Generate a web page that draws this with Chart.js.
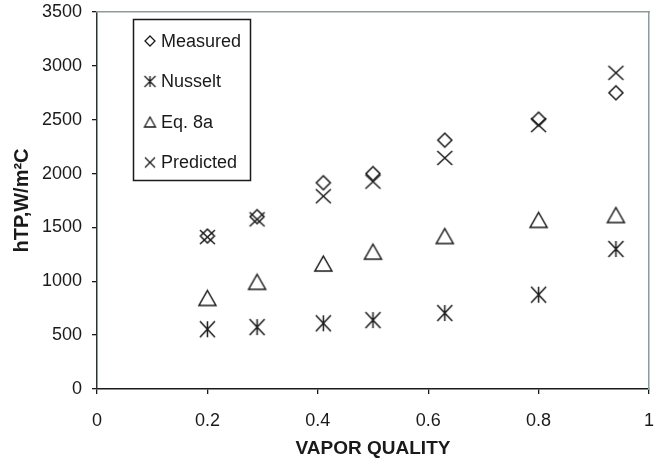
<!DOCTYPE html>
<html>
<head>
<meta charset="utf-8">
<script src="https://cdn.jsdelivr.net/npm/chart.js@4"></script>
<style>
  html, body { margin: 0; padding: 0; background: #fff; }
  #wrap { width: 654px; height: 463px; }
</style>
</head>
<body>
<div id="wrap"><canvas id="chart" width="654" height="463"></canvas></div>
<script>
// values
const vaporQuality = [0.2, 0.29, 0.41, 0.5, 0.63, 0.8, 0.94];
const measured  = [1420, 1600, 1915, 2000, 2310, 2505, 2750];
const nusselt   = [555, 575, 610, 640, 705, 875, 1300];
const eq8a      = [845, 995, 1165, 1275, 1420, 1570, 1615];
const predicted = [1410, 1575, 1790, 1925, 2145, 2450, 2935];
const seriesNames = ['Measured', 'Nusselt', 'Eq. 8a', 'Predicted'];

const INK = '#1a1a1a';
const FONT = '"Liberation Sans", Arial, Helvetica, sans-serif';

// marker glyphs as small canvases (used as pointStyle and in the legend box)
function makeMarker(kind, w, h, lw) {
  const c = document.createElement('canvas');
  c.width = w + 4; c.height = h + 4;
  const g = c.getContext('2d');
  g.strokeStyle = INK; g.lineWidth = lw; g.lineJoin = 'miter';
  g.translate(2, 2);
  g.beginPath();
  if (kind === 'diamond') {
    g.moveTo(w / 2, 0); g.lineTo(w, h / 2); g.lineTo(w / 2, h); g.lineTo(0, h / 2); g.closePath();
  } else if (kind === 'triangle') {
    g.moveTo(w / 2, 0); g.lineTo(w, h); g.lineTo(0, h); g.closePath();
  } else {
    g.moveTo(0, 0); g.lineTo(w, h); g.moveTo(w, 0); g.lineTo(0, h);
    if (kind === 'star') { g.moveTo(w / 2, 0); g.lineTo(w / 2, h); }
  }
  g.stroke();
  return c;
}

const markers = [
  makeMarker('diamond', 14, 14, 1.5),
  makeMarker('star', 15, 16, 1.5),
  makeMarker('triangle', 17, 15, 1.5),
  makeMarker('cross', 15, 14, 1.5)
];
const legendMarkers = [
  makeMarker('diamond', 10, 10, 1.3),
  makeMarker('star', 11, 11, 1.3),
  makeMarker('triangle', 11, 10, 1.3),
  makeMarker('cross', 10, 10, 1.3)
];

const toPoints = ys => vaporQuality.map((x, i) => ({ x, y: ys[i] }));
const datasets = [measured, nusselt, eq8a, predicted].map((ys, i) => ({
  label: seriesNames[i],
  data: toPoints(ys),
  pointStyle: markers[i],
  showLine: false
}));

// legend box drawn inside the plot area, top-left
const boxLegend = {
  id: 'boxLegend',
  afterDraw(chart) {
    const { ctx, chartArea } = chart;
    const x0 = chartArea.left + 36, y0 = chartArea.top + 7;
    const w = 117, h = 161;
    ctx.save();
    ctx.strokeStyle = INK; ctx.lineWidth = 1.5;
    ctx.strokeRect(x0 + 0.5, y0 + 0.5, w, h);
    ctx.font = '18px ' + FONT;
    ctx.fillStyle = INK;
    ctx.textBaseline = 'middle';
    seriesNames.forEach((name, i) => {
      const cy = y0 + 22 + i * 40.5;
      const m = legendMarkers[i];
      ctx.drawImage(m, x0 + 17 - m.width / 2, cy - m.height / 2);
      ctx.fillText(name, x0 + 28, cy + 1);
    });
    ctx.restore();
  }
};

// pin each axis box to the reference sizes, no extra label padding
const pin = (dim, size) => s => {
  s[dim] = size;
  s.paddingLeft = 0; s.paddingRight = 0; s.paddingTop = 0; s.paddingBottom = 0;
};

new Chart(document.getElementById('chart'), {
  type: 'scatter',
  data: { datasets },
  options: {
    responsive: false,
    animation: false,
    events: [],
    layout: { padding: 0 },
    plugins: { legend: { display: false }, tooltip: { enabled: false } },
    scales: {
      x: {
        type: 'linear', position: 'bottom', min: 0, max: 1,
        afterFit: pin('height', 74),
        ticks: {
          stepSize: 0.2, color: INK, padding: 16, maxRotation: 0,
          font: { family: FONT, size: 18 },
          callback: v => String(+v.toFixed(1))
        },
        grid: { drawOnChartArea: false, tickLength: 5, color: INK, lineWidth: 1.3 },
        border: { color: INK, width: 1.5 },
        title: {
          display: true, text: 'VAPOR QUALITY', color: INK,
          font: { family: FONT, size: 19, weight: 'bold' },
          padding: { top: 0, bottom: 3 }
        }
      },
      y: {
        type: 'linear', position: 'left', min: 0, max: 3500,
        afterFit: pin('width', 97),
        ticks: {
          stepSize: 500, color: INK, padding: 10,
          font: { family: FONT, size: 18 },
          callback: v => String(v)
        },
        grid: { drawOnChartArea: false, tickLength: 5, color: INK, lineWidth: 1.3 },
        border: { color: '#2a3434', width: 1.5 },
        title: {
          display: true, text: 'hTP,W/m²C', color: INK,
          font: { family: FONT, size: 20, weight: 'bold' },
          padding: { top: 10, bottom: 0 }
        }
      },
      xTop: {
        type: 'linear', position: 'top', min: 0, max: 1,
        afterFit: pin('height', 12),
        ticks: { display: false },
        grid: { display: false, drawTicks: false },
        border: { color: '#8a9c9c', width: 1.5 }
      },
      yRight: {
        type: 'linear', position: 'right', min: 0, max: 3500,
        afterFit: pin('width', 2),
        ticks: { display: false },
        grid: { display: false, drawTicks: false },
        border: { color: '#8a9c9c', width: 1.5 }
      }
    }
  },
  plugins: [boxLegend]
});
</script>
</body>
</html>
